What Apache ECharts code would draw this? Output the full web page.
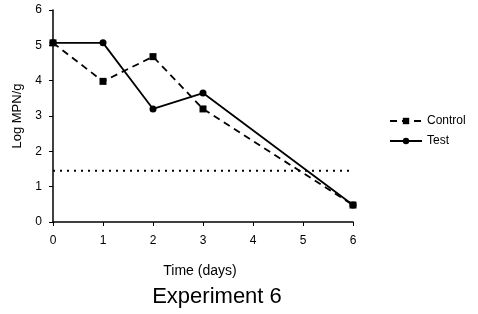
<!DOCTYPE html>
<html><head><meta charset="utf-8">
<script src="https://cdn.jsdelivr.net/npm/echarts@6/dist/echarts.min.js"></script>
<style>html,body{margin:0;padding:0;background:#fff}#c{width:478px;height:314px}</style>
</head><body><div id="c"></div>
<script>
var days = [0, 1, 2, 3, 6];
var controlValues = [5.07, 3.98, 4.68, 3.2, 0.48];
var testValues = [5.07, 5.07, 3.2, 3.65, 0.48];
var limitValue = 1.45;
var xTicks = [0, 1, 2, 3, 4, 5, 6];
var yTicks = [0, 1, 2, 3, 4, 5, 6];

function pairs(xs, ys){ return xs.map(function(x,i){ return [x, ys[i]]; }); }
var font = 'Liberation Sans, Arial, sans-serif';
var chart = echarts.init(document.getElementById('c'));
chart.setOption({
  animation: false,
  backgroundColor: '#fff',
  grid: {left: 53, right: 125, top: 10, bottom: 92},
  title: {text: 'Experiment 6', left: 212, top: 281, textAlign: 'center',
    textStyle: {fontFamily: font, fontSize: 22, fontWeight: 'normal', color: '#000'}},
  legend: {
    orient: 'vertical', left: 384, top: 110, itemWidth: 32, itemHeight: 8, itemGap: 8,
    textStyle: {fontFamily: font, fontSize: 12, color: '#000'},
    data: ['Control', 'Test']
  },
  xAxis: {
    type: 'value', min: 0, max: 6, interval: 1,
    name: 'Time (days)', nameLocation: 'middle', nameGap: 42,
    nameTextStyle: {fontFamily: font, fontSize: 14, color: '#000', padding: [0,6,0,0]},
    axisLine: {lineStyle: {color: '#000', width: 1.5}},
    axisTick: {show: true, length: 4, lineStyle: {color: '#000'}},
    axisLabel: {fontFamily: font, fontSize: 12, color: '#000', margin: 13},
    splitLine: {show: false}
  },
  yAxis: {
    type: 'value', min: 0, max: 6, interval: 1,
    name: 'Log MPN/g', nameLocation: 'middle', nameGap: 29, nameRotate: 90,
    nameTextStyle: {fontFamily: font, fontSize: 13, color: '#000'},
    axisLine: {show: true, lineStyle: {color: '#000', width: 1.5}},
    axisTick: {show: true, length: 4, lineStyle: {color: '#000'}},
    axisLabel: {fontFamily: font, fontSize: 12, color: '#000', margin: 11},
    splitLine: {show: false}
  },
  series: [
    {name: 'Control', type: 'line', data: pairs(days, controlValues),
     symbol: 'rect', symbolSize: 7, itemStyle: {color: '#000'},
     lineStyle: {color: '#000', width: 1.8, type: [7, 5]}},
    {name: 'Test', type: 'line', data: pairs(days, testValues),
     symbol: 'circle', symbolSize: 7, itemStyle: {color: '#000'},
     lineStyle: {color: '#000', width: 1.8, type: 'solid'}},
    {name: 'limit', type: 'line', data: [[xTicks[0], limitValue], [xTicks[xTicks.length-1], limitValue]],
     symbol: 'none', lineStyle: {color: '#000', width: 2, type: [2, 5]}, silent: true}
  ]
});
</script></body></html>
